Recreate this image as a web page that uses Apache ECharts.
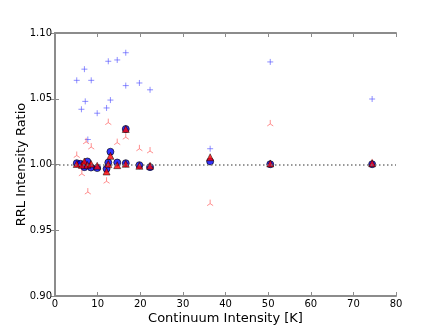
<!DOCTYPE html>
<html>
<head>
<meta charset="utf-8">
<script src="https://cdn.jsdelivr.net/npm/echarts@6/dist/echarts.min.js"></script>
<style>
  html, body { margin: 0; padding: 0; background: #fff; }
  #chart { width: 440px; height: 330px; }
</style>
</head>
<body>
<div id="chart"></div>
<script>
// blue "+" points
const plusX = [5.1, 6.2, 6.9, 7.1, 7.7, 8.5, 9.9, 12.1, 12.5, 13.0, 14.6, 16.6, 16.6, 19.8, 22.3, 36.4, 50.5, 74.4];
const plusY = [1.064, 1.042, 1.0725, 1.048, 1.019, 1.064, 1.039, 1.043, 1.0785, 1.049, 1.0795, 1.085, 1.060, 1.062, 1.0568, 1.012, 1.078, 1.0498];
// red tri points
const triX = [5.1, 6.3, 7.3, 7.7, 8.5, 12.1, 12.5, 14.6, 16.6, 19.8, 22.3, 36.4, 50.5, 74.4];
const triY = [1.0076, 0.9937, 1.018, 0.9798, 1.014, 0.988, 1.0326, 1.0174, 1.0215, 1.0127, 1.011, 0.971, 1.0316, 1.002];
// blue circles
const circX = [5.1, 6.0, 6.9, 7.6, 8.45, 9.9, 12.1, 13.0, 12.5, 14.6, 16.6, 19.8, 22.3, 16.6, 36.4, 50.5, 74.4];
const circY = [1.001, 1.0005, 0.998, 1.0023, 0.9977, 0.9973, 0.9967, 1.0097, 1.0015, 1.0015, 1.001, 0.9995, 0.998, 1.027, 1.0023, 1.0002, 1.0002];
// red triangles
const triaX = [5.1, 6.3, 6.9, 7.6, 8.45, 9.9, 12.1, 13.0, 12.5, 14.6, 16.6, 19.8, 22.3, 16.6, 36.4, 50.5, 74.4];
const triaY = [1.0004, 0.9997, 1.0023, 0.9997, 1.0005, 0.999, 0.9947, 1.0066, 1.0003, 0.9995, 1.0005, 0.999, 0.999, 1.027, 1.0055, 1.0008, 1.001];

const xTicks = [0, 10, 20, 30, 40, 50, 60, 70, 80];
const yTicks = [0.90, 0.95, 1.00, 1.05, 1.10];

const pair = (xs, ys) => xs.map((x, i) => [x, ys[i]]);
const font = 'DejaVu Sans';

const frameLine = { show: true, lineStyle: { color: '#8c8c8c', width: 2 } };
const inTick = { show: true, inside: true, length: 4, lineStyle: { color: '#8c8c8c' } };

const chart = echarts.init(document.getElementById('chart'));
chart.setOption({
  animation: false,
  grid: { left: 55, right: 44, top: 33, bottom: 33 },
  xAxis: [
    {
      type: 'value', min: xTicks[0], max: xTicks[xTicks.length - 1], interval: 10,
      axisLine: frameLine, axisTick: inTick, splitLine: { show: false },
      axisLabel: { color: '#000', fontFamily: font, fontSize: 10, margin: 3 },
      name: 'Continuum Intensity [K]', nameLocation: 'middle', nameGap: 16, nameMoveOverlap: false,
      nameTextStyle: { color: '#000', fontFamily: font, fontSize: 13 }
    },
    {
      type: 'value', position: 'top', min: 0, max: 80, interval: 10,
      axisLine: frameLine, axisTick: inTick, axisLabel: { show: false }, splitLine: { show: false }
    }
  ],
  yAxis: [
    {
      type: 'value', min: yTicks[0], max: yTicks[yTicks.length - 1], interval: 0.05,
      axisLine: frameLine, axisTick: inTick, splitLine: { show: false },
      axisLabel: { color: '#000', fontFamily: font, fontSize: 10, margin: 3,
        formatter: v => v.toFixed(2) },
      name: 'RRL Intensity Ratio', nameLocation: 'middle', nameGap: 27, nameMoveOverlap: false,
      nameTextStyle: { color: '#000', fontFamily: font, fontSize: 13 }
    },
    {
      type: 'value', position: 'right', min: 0.90, max: 1.10, interval: 0.05,
      axisLine: frameLine, axisTick: inTick, axisLabel: { show: false }, splitLine: { show: false }
    }
  ],
  series: [
    {
      type: 'scatter', data: pair(plusX, plusY),
      symbol: 'path://M-5,0L5,0M0,-5L0,5', symbolSize: 6,
      itemStyle: { color: 'none', borderColor: 'rgba(80,80,255,0.8)', borderWidth: 1 },
      markLine: {
        silent: true, symbol: 'none', label: { show: false },
        lineStyle: { color: '#777', type: [1.5, 2.5], width: 1.5 },
        data: [{ yAxis: 1 }]
      }
    },
    {
      type: 'scatter', data: pair(triX, triY),
      symbol: 'path://M0,0L0,-5M0,0L-4.33,2.5M0,0L4.33,2.5', symbolSize: 6,
      itemStyle: { color: 'none', borderColor: 'rgba(255,80,80,0.8)', borderWidth: 1 }
    },
    {
      type: 'scatter', data: pair(circX, circY),
      symbol: 'circle', symbolSize: 7,
      itemStyle: { color: '#0000ff', borderColor: '#000', borderWidth: 0.8 }
    },
    {
      type: 'scatter', data: pair(triaX, triaY),
      symbol: 'triangle', symbolSize: 7,
      itemStyle: { color: '#ff0000', borderColor: '#000', borderWidth: 0.6 }
    }
  ]
});
</script>
</body>
</html>
